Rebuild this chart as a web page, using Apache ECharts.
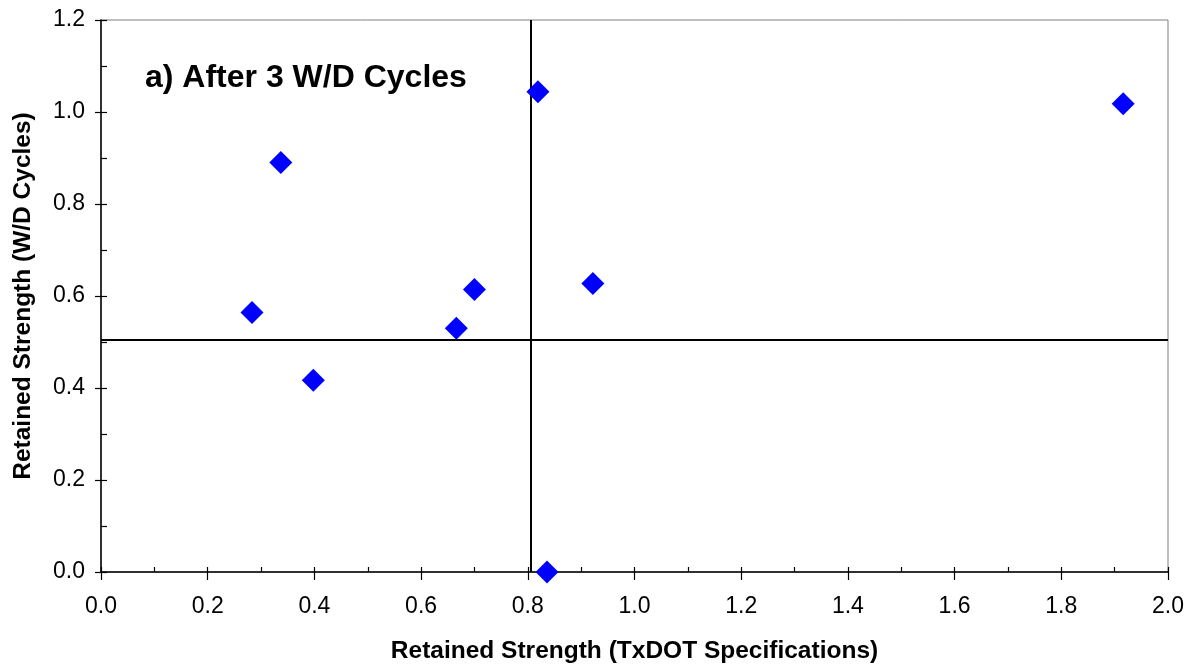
<!DOCTYPE html>
<html><head><meta charset="utf-8">
<script src="https://cdn.jsdelivr.net/npm/echarts@6/dist/echarts.min.js"></script>
<style>html,body{margin:0;padding:0;background:#fff}#c{width:1195px;height:669px}</style>
</head><body><div id="c"></div>
<script>
const xTxdot = [1.916, 0.819, 0.337, 0.283, 0.398, 0.666, 0.700, 0.922, 0.836];
const yWD    = [1.018, 1.044, 0.890, 0.564, 0.417, 0.530, 0.614, 0.627, 0.000];
const crossX = 0.805;
const crossY = 0.505;
const titleText = 'a) After 3 W/D Cycles';
const xName = 'Retained Strength (TxDOT Specifications)';
const yName = 'Retained Strength (W/D Cycles)';

const font = 'Liberation Sans, Arial, sans-serif';
const chart = echarts.init(document.getElementById('c'), null, {renderer:'canvas'});
const baseX = {type:'value', min:0, max:2.0, interval:0.2, position:'bottom', splitLine:{show:false}};
const baseY = {type:'value', min:0, max:1.2, interval:0.2, position:'left', splitLine:{show:false}};
chart.setOption({
  animation:false,
  backgroundColor:'#fff',
  title:{text:titleText, left:140, top:57, textStyle:{fontFamily:font, fontSize:32, fontWeight:'bold', color:'#000'}},
  grid:{left:101, right:27, top:20, bottom:97, show:true, borderColor:'#808080', borderWidth:1,
        containLabel:false, outerBoundsMode:'none'},
  xAxis:[
    Object.assign({}, baseX, {
      name:xName, nameLocation:'middle', nameGap:67,
      nameTextStyle:{fontFamily:font, fontSize:24.5, fontWeight:'bold', color:'#000'},
      axisLine:{show:true, onZero:false, lineStyle:{color:'#000', width:1.5}},
      axisTick:{show:true, inside:false, length:8, lineStyle:{color:'#000', width:1.2}},
      axisLabel:{fontFamily:font, fontSize:23, color:'#000', margin:23, formatter:v=>v.toFixed(1)}
    }),
    Object.assign({}, baseX, {
      axisLine:{show:false},
      axisLabel:{show:false},
      axisTick:{show:true, inside:true, length:5, lineStyle:{color:'#000', width:1.2}},
      minorTick:{show:true, splitNumber:2, length:5, lineStyle:{color:'#000', width:1.2}}
    })
  ],
  yAxis:[
    Object.assign({}, baseY, {
      name:yName, nameLocation:'middle', nameGap:65,
      nameTextStyle:{fontFamily:font, fontSize:24.5, fontWeight:'bold', color:'#000'},
      axisLine:{show:true, onZero:false, lineStyle:{color:'#000', width:1.5}},
      axisTick:{show:true, inside:false, length:6, lineStyle:{color:'#000', width:1.2}},
      axisLabel:{fontFamily:font, fontSize:23, color:'#000', margin:16, formatter:v=>v.toFixed(1)}
    }),
    Object.assign({}, baseY, {
      axisLine:{show:false},
      axisLabel:{show:false},
      axisTick:{show:true, inside:true, length:6, lineStyle:{color:'#000', width:1.2}},
      minorTick:{show:true, splitNumber:2, length:6, lineStyle:{color:'#000', width:1.2}}
    })
  ],
  series:[{
    type:'scatter',
    xAxisIndex:0, yAxisIndex:0,
    data:xTxdot.map((x,i)=>[x, yWD[i]]),
    symbol:'diamond', symbolSize:23,
    itemStyle:{color:'#0000FF', opacity:1},
    z:5,
    markLine:{
      silent:true, symbol:['none','none'], label:{show:false}, precision:4,
      lineStyle:{color:'#000', width:2, type:'solid'},
      data:[{xAxis:crossX},{yAxis:crossY}]
    }
  }]
});
</script></body></html>
